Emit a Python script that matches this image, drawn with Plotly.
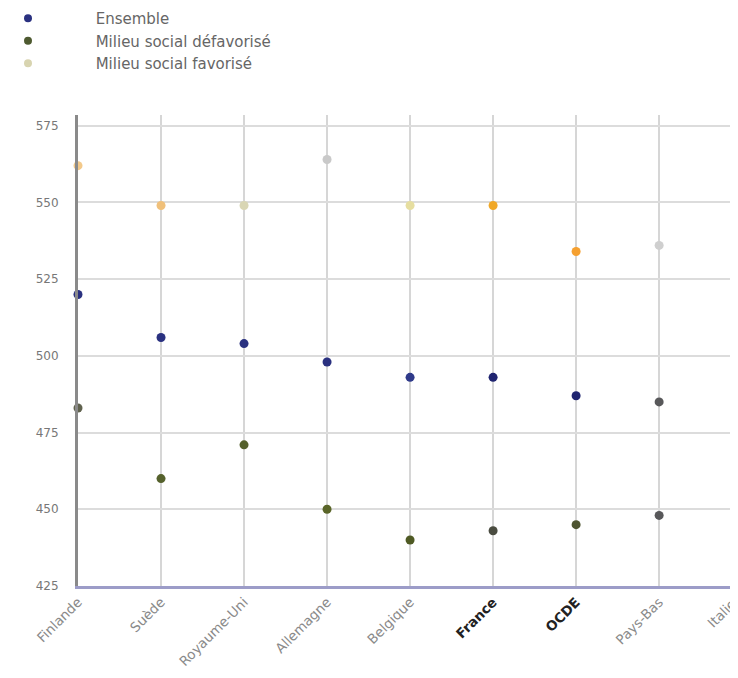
import plotly.graph_objects as go

# ---- data ----
categories = ["Finlande", "Suède", "Royaume-Uni", "Allemagne", "Belgique",
              "France", "OCDE", "Pays-Bas", "Italie"]
ensemble = [520, 506, 504, 498, 493, 493, 487, 485, 476]
defavorise = [483, 460, 471, 450, 440, 443, 445, 448, 437]
favorise = [562, 549, 549, 564, 549, 549, 534, 536, 520]
y_ticks = [425, 450, 475, 500, 525, 550, 575]
series_names = ["Ensemble", "Milieu social défavorisé", "Milieu social favorisé"]

# ---- styles ----
col_ens = ["#2a3180", "#2a3180", "#2a3180", "#2a3180", "#2f3a8a",
           "#1f2470", "#1f2470", "#58585a", "#2a3180"]
col_def = ["#60624e", "#55612c", "#55612c", "#5a6528", "#4f5a24",
           "#4a4c40", "#4e5430", "#58585a", "#55612c"]
col_fav = ["#f3c98a", "#f0c07a", "#d9d6b4", "#c9c9c9", "#e6dea0",
           "#f0a828", "#f5a030", "#cfcfcf", "#e6dea0"]
legend_cols = ["#2a3180", "#4e5a30", "#d8d4b0"]
pad = "\u00a0" * 10
FONT = "DejaVu Sans, Verdana, sans-serif"

bold = {"France", "OCDE"}
ticktext = [f"<span style='color:#222'><b>{c}</b></span>" if c in bold else c
            for c in categories]
xs = list(range(len(categories)))

fig = go.Figure()
for vals, cols, nm in zip([ensemble, defavorise, favorise],
                          [col_ens, col_def, col_fav], series_names):
    fig.add_trace(go.Scatter(x=xs, y=vals, mode="markers", name=nm, showlegend=False,
                             marker=dict(size=9, color=cols), cliponaxis=False))
for nm, lc in zip(series_names, legend_cols):
    fig.add_trace(go.Scatter(x=[None], y=[None], mode="markers", name=pad + nm,
                             marker=dict(size=8, color=lc)))

xr = [0, 7.95]
fig.update_layout(
    width=730, height=670,
    margin=dict(l=70, r=0, t=107, b=92, autoexpand=False),
    paper_bgcolor="white", plot_bgcolor="white",
    font=dict(family=FONT, color="#777", size=12),
    showlegend=True,
    legend=dict(xref="container", yref="paper", x=0.0, y=1.24,
                xanchor="left", yanchor="top", tracegroupgap=0,
                font=dict(family=FONT, size=15, color="#666"),
                bgcolor="rgba(0,0,0,0)"),
    xaxis=dict(range=xr, tickmode="array", tickvals=xs, ticktext=ticktext,
               tickangle=-45, showgrid=True, gridcolor="#d6d6d6", gridwidth=1.5,
               showline=True, linecolor="#9c9cc8", linewidth=3,
               zeroline=False, ticks="",
               tickfont=dict(family=FONT, size=13.5, color="#8a8a8a")),
    yaxis=dict(range=[425, 578.5], tickmode="array", tickvals=y_ticks,
               showgrid=True, gridcolor="#dcdcdc", gridwidth=1.5,
               showline=True, linecolor="#8a8a8a", linewidth=3,
               zeroline=False, ticks="", ticklabelstandoff=14,
               tickfont=dict(family=FONT, size=12, color="#777")),
)

# last category label partially outside the visible area
fig.add_annotation(xref="paper", yref="paper",
                   x=(xs[-1] - xr[0]) / (xr[1] - xr[0]), y=-0.015,
                   text=categories[-1], showarrow=False, textangle=-45,
                   xanchor="right", yanchor="top",
                   font=dict(family=FONT, size=13.5, color="#8a8a8a"))

fig.write_html("out.html")
